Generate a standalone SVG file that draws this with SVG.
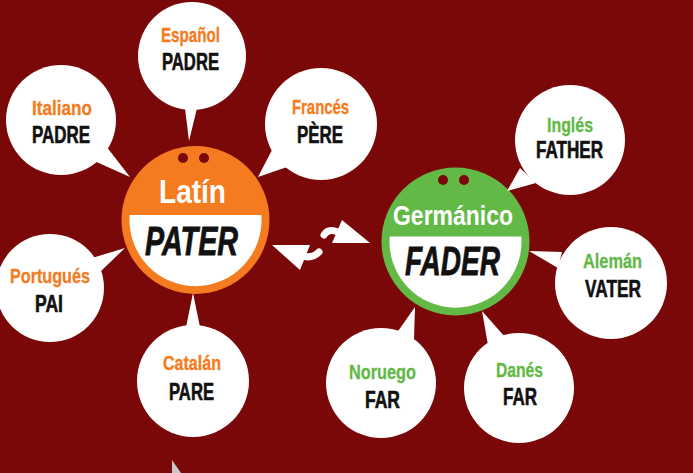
<svg xmlns="http://www.w3.org/2000/svg" width="693" height="473" viewBox="0 0 693 473">
<style>
.bub{fill:#ffffff}
.t{font-family:"Liberation Sans",Arial,sans-serif;font-weight:bold;text-anchor:middle}
.lo{fill:#f47b20;font-size:21px;stroke:#f47b20;stroke-width:0.3}
.lg{fill:#62b946;font-size:21px;stroke:#62b946;stroke-width:0.3}
.w{fill:#111111;font-size:23px;stroke:#111111;stroke-width:0.6}
.big{fill:#111111;font-size:41px;font-style:italic;stroke:#111111;stroke-width:0.8}
.head{fill:#ffffff}
.eye{fill:#7a0808}
</style>
<rect x="0" y="0" width="693" height="473" fill="#7a0808"/>
<polygon points="172,460 172,473 181,473" fill="#c8c8c8"/>

<g id="connectors">
  <polygon class="head" points="272,245 310,245 300,270"/>
  <path d="M302,256 Q312,259 319,252" fill="none" stroke="#ffffff" stroke-width="7" stroke-linecap="round"/>
  <polygon class="head" points="342,220 370,243 332,243"/>
  <path d="M338,232 Q328,228 324,235" fill="none" stroke="#ffffff" stroke-width="7" stroke-linecap="round"/>
</g>

<g id="latin">
  <circle cx="195.5" cy="220" r="74" fill="#f47b20"/>
  <path d="M129.7,215 L261.3,215 A66 66 0 1 1 129.7,215 Z" fill="#ffffff"/>
  <circle class="eye" cx="183" cy="158" r="5"/>
  <circle class="eye" cx="204" cy="158" r="5"/>
  <text class="t" x="192.5" y="203" font-size="34" fill="#ffffff" textLength="67" lengthAdjust="spacingAndGlyphs">Latín</text>
  <text class="t big" x="191.5" y="255" textLength="93" lengthAdjust="spacingAndGlyphs">PATER</text>
</g>

<g id="germanico">
  <circle cx="455.5" cy="241.5" r="74" fill="#62b946"/>
  <path d="M389.7,236.5 L521.3,236.5 A66 66 0 1 1 389.7,236.5 Z" fill="#ffffff"/>
  <circle class="eye" cx="443" cy="180" r="5"/>
  <circle class="eye" cx="464" cy="180" r="5"/>
  <text class="t" x="453" y="225" font-size="27" fill="#ffffff" textLength="120" lengthAdjust="spacingAndGlyphs">Germánico</text>
  <text class="t big" x="452.5" y="275" textLength="95" lengthAdjust="spacingAndGlyphs">FADER</text>
</g>

<g id="espanol">
  <circle class="bub" cx="192" cy="56" r="54"/>
  <polygon class="bub" points="184,100 199,100 189,141"/>
  <text class="t lo" x="190.5" y="42" textLength="59" lengthAdjust="spacingAndGlyphs">Español</text>
  <text class="t w" x="190.5" y="70" textLength="57" lengthAdjust="spacingAndGlyphs">PADRE</text>
</g>

<g id="italiano">
  <circle class="bub" cx="61" cy="120" r="55"/>
  <polygon class="bub" points="92,160 106,146 130,177"/>
  <text class="t lo" x="62" y="115" textLength="60" lengthAdjust="spacingAndGlyphs">Italiano</text>
  <text class="t w" x="61" y="143" textLength="58" lengthAdjust="spacingAndGlyphs">PADRE</text>
</g>

<g id="frances">
  <circle class="bub" cx="321" cy="124" r="56"/>
  <polygon class="bub" points="272,150 290,166 258,177"/>
  <text class="t lo" x="320.5" y="114" textLength="57" lengthAdjust="spacingAndGlyphs">Francés</text>
  <text class="t w" x="320" y="143" textLength="46" lengthAdjust="spacingAndGlyphs">PÈRE</text>
</g>

<g id="portugues">
  <circle class="bub" cx="50" cy="288" r="54"/>
  <polygon class="bub" points="92,258 100,272 125,248"/>
  <text class="t lo" x="50" y="283" textLength="80" lengthAdjust="spacingAndGlyphs">Portugués</text>
  <text class="t w" x="49" y="312" textLength="28" lengthAdjust="spacingAndGlyphs">PAI</text>
</g>

<g id="catalan">
  <circle class="bub" cx="193" cy="381" r="56"/>
  <polygon class="bub" points="185,332 201,332 193,293"/>
  <text class="t lo" x="192" y="370" textLength="58" lengthAdjust="spacingAndGlyphs">Catalán</text>
  <text class="t w" x="191.5" y="400" textLength="45" lengthAdjust="spacingAndGlyphs">PARE</text>
</g>

<g id="ingles">
  <circle class="bub" cx="570" cy="140" r="55"/>
  <polygon class="bub" points="520,168 536,183 507,191"/>
  <text class="t lg" x="570" y="132" textLength="46" lengthAdjust="spacingAndGlyphs">Inglés</text>
  <text class="t w" x="569.5" y="158" textLength="67" lengthAdjust="spacingAndGlyphs">FATHER</text>
</g>

<g id="aleman">
  <circle class="bub" cx="611" cy="283" r="56"/>
  <polygon class="bub" points="562,252 558,268 529,251"/>
  <text class="t lg" x="612.5" y="268" textLength="59" lengthAdjust="spacingAndGlyphs">Alemán</text>
  <text class="t w" x="613" y="297" textLength="56" lengthAdjust="spacingAndGlyphs">VATER</text>
</g>

<g id="noruego">
  <circle class="bub" cx="381" cy="383" r="55"/>
  <polygon class="bub" points="396,334 414,340 415,307"/>
  <text class="t lg" x="382.5" y="379" textLength="67" lengthAdjust="spacingAndGlyphs">Noruego</text>
  <text class="t w" x="382.5" y="408" textLength="35" lengthAdjust="spacingAndGlyphs">FAR</text>
</g>

<g id="danes">
  <circle class="bub" cx="519" cy="388" r="55"/>
  <polygon class="bub" points="488,345 505,337 482,311"/>
  <text class="t lg" x="519.5" y="377" textLength="47" lengthAdjust="spacingAndGlyphs">Danés</text>
  <text class="t w" x="520" y="405" textLength="34" lengthAdjust="spacingAndGlyphs">FAR</text>
</g>
</svg>
